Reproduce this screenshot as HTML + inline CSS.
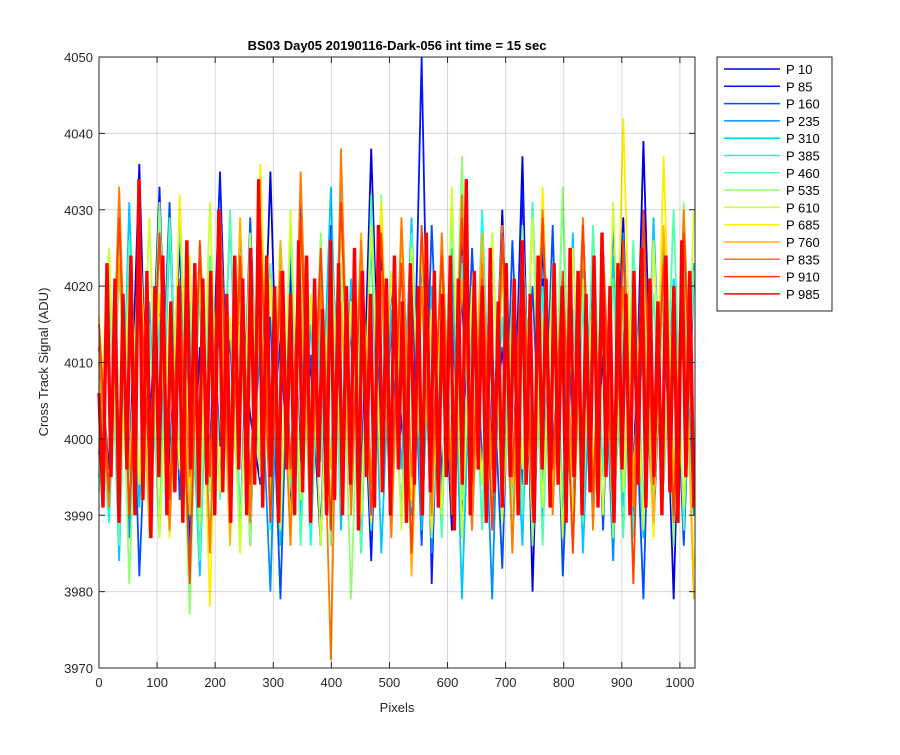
<!DOCTYPE html>
<html><head><meta charset="utf-8"><style>
body{margin:0;background:#fff;font-family:"Liberation Sans",sans-serif}
svg text{font-family:"Liberation Sans",sans-serif}
</style></head><body>
<svg id="chart" width="900" height="750">
<rect x="0" y="0" width="900" height="750" fill="#fff"/>
<rect x="99" y="57" width="596" height="611" fill="#fff" stroke="none"/>
<g id="series"></g>
<g id="grid"></g>
<rect x="99" y="57" width="596" height="611" fill="none" stroke="#262626" stroke-width="1"/>
<g id="axes"></g>
<text x="397" y="50" text-anchor="middle" font-size="13" font-weight="bold" fill="#000">BS03 Day05 20190116-Dark-056 int time = 15 sec</text>
<text x="397" y="712" text-anchor="middle" font-size="13" fill="#262626">Pixels</text>
<text transform="translate(48,362) rotate(-90)" text-anchor="middle" font-size="13" fill="#262626">Cross Track Signal (ADU)</text>
<g id="legend"></g>
</svg>
<script>
const seriesNames=["P 10","P 85","P 160","P 235","P 310","P 385","P 460","P 535","P 610","P 685","P 760","P 835","P 910","P 985"];
const colors=["#0000e0","#0018ff","#0050ff","#0090ff","#00c8ff","#10fff0","#50ffb0","#90ff70","#d0ff30","#ffee00","#ffb400","#ff7a00","#ff4000","#ff0000"];
const xTicks=[0,100,200,300,400,500,600,700,800,900,1000];
const yTicks=[3970,3980,3990,4000,4010,4020,4030,4040,4050];
const s0=[4005,3990,4024,3995,4036,3988,4018,3996,4026,3986,4012,3998,4030,3992,4016,4003,3994,4035,3990,4022,3997,4010,3986,4028,3999,4014,3993,4038,3995,4020,4002,3990,4024,3996,4017,3988,4027,3999,4012,3994,4030,3991,4037,3980,4026,3996,4015,3990,4023,3993,4011,3998,4029,3989,4039,3992,4020,3979,4028,3995];
const s1=[4012,3996,4026,3987,4020,3999,4033,3991,4015,3985,4024,3997,4035,3993,4018,3986,4027,3999,4013,3990,4031,3995,4022,3989,4030,3996,4017,3984,4025,3998,4014,3991,4050,3981,4026,3995,4019,3988,4027,3997,4012,3993,4033,3986,4021,3999,4016,3990,4028,3994,4024,3989,4014,3996,4030,3988,4021,3993,4017,3991];
const s2=[3998,4020,3990,4026,3982,4015,3996,4031,3992,4018,3984,4024,3999,4013,3987,4029,3994,4016,3979,4025,3997,4011,3988,4027,3993,4019,3985,4030,3996,4014,3990,4023,3986,4028,3995,4017,3989,4025,3997,4012,3983,4026,3994,4020,3990,4028,3982,4015,3996,4024,3988,4029,3993,4013,3979,4027,3995,4019,3986,4021];
const s3=[4010,3992,4027,3987,4019,3995,4031,3990,4014,3983,4025,3996,4016,3989,4028,3993,4012,3980,4026,3997,4015,3991,4023,3986,4029,3995,4018,3988,4022,3994,4013,3990,4027,3985,4019,3996,4024,3992,4016,3979,4026,3993,4021,3989,4028,3995,4014,3987,4023,3991,4017,3984,4027,3996,4012,3989,4025,3993,4019,3990];
const s4=[3995,4025,3984,4031,3991,4018,3987,4027,3996,4013,3982,4024,3993,4029,3989,4016,3995,4023,3986,4028,3990,4015,3997,4033,3988,4021,3993,4026,3985,4017,3996,4029,3988,4020,3992,4025,3979,4018,3994,4027,3990,4014,3986,4031,3993,4022,3989,4027,3985,4018,3996,4024,3991,4016,3987,4029,3994,4021,3990,4023];
const s5=[4007,3989,4022,3995,4027,3987,4016,3993,4029,3990,4019,3986,4025,3997,4013,3991,4031,3988,4020,3994,4024,3986,4017,3996,4033,3990,4021,3988,4028,3995,4015,3991,4026,3987,4019,3997,4023,3989,4030,3993,4016,3986,4027,3995,4020,3991,4032,3988,4018,3994,4025,3990,4014,3987,4028,3993,4021,3989,4024,3995];
const s6=[3993,4021,3986,4026,3994,4015,3989,4029,3996,4018,3984,4024,3992,4030,3988,4017,3995,4023,3990,4028,3986,4019,3997,4025,3991,4016,3985,4032,3993,4022,3989,4027,3995,4015,3987,4030,3992,4020,3988,4026,3996,4018,3990,4031,3986,4023,3993,4017,3989,4028,3995,4021,3987,4026,3991,4019,3994,4030,3988,4022];
const s7=[4004,3991,4026,3981,4019,3995,4031,3989,4016,3977,4024,3993,4028,3990,4015,3986,4029,3996,4021,3988,4017,3994,4027,3986,4023,3979,4019,3993,4032,3989,4016,3995,4025,3987,4020,3991,4037,3988,4017,3994,4022,3990,4028,3986,4016,3993,4033,3989,4021,3995,4024,3987,4018,3992,4029,3990,4020,3986,4031,3994];
const s8=[3999,4025,3990,4020,3994,4029,3987,4017,3996,4024,3989,4031,3993,4016,3985,4027,3995,4021,3988,4030,3992,4019,3986,4026,3997,4018,3990,4028,3993,4022,3988,4025,3995,4017,3990,4033,3987,4020,3994,4027,3989,4015,3996,4029,3991,4021,3987,4025,3995,4019,3990,4031,3993,4022,3988,4026,3996,4018,3991,4030];
const s9=[4016,3993,4024,3990,4028,3996,4019,3987,4032,3994,4022,3978,4027,3995,4018,3990,4036,3993,4021,3988,4026,3996,4019,3991,4029,3994,4023,3989,4031,3995,4017,3992,4027,3988,4022,3996,4030,3993,4019,3990,4028,3995,4024,3991,4033,3994,4020,3988,4027,3996,4023,3990,4042,3994,4021,3987,4037,3995,4019,3983];
const s10=[4008,3992,4023,3996,4019,3988,4027,3994,4015,3990,4025,3997,4021,3986,4029,3993,4017,3991,4026,3995,4020,3989,4024,3996,4018,3991,4027,3994,4022,3990,4028,3982,4019,3995,4025,3991,4021,3996,4027,3989,4023,3994,4018,3990,4029,3996,4022,3985,4026,3993,4020,3991,4025,3995,4017,3989,4028,3994,4021,3979];
const s11=[4012,3991,4033,3990,4022,3996,4027,3988,4019,3995,4025,3985,4030,3993,4021,3989,4028,3996,4018,3986,4035,3992,4020,3971,4038,3990,4026,3994,4022,3987,4029,3995,4020,3990,4027,3993,4032,3988,4023,3996,4028,3985,4024,3994,4030,3990,4021,3995,4029,3988,4025,3994,4020,3991,4027,3995,4022,3989,4030,3993];
const s12=[4015,3993,4029,3990,4023,3996,4027,3992,4021,3981,4026,3995,4030,3990,4024,3994,4028,3989,4022,3996,4029,3993,4025,3988,4031,3995,4022,3990,4027,3994,4023,3985,4028,3996,4024,3990,4029,3994,4021,3988,4027,3995,4025,3991,4029,3996,4022,3985,4028,3993,4024,3990,4026,3981,4030,3994,4023,3990,4027,3995];
const s13=[4006,3991,4023,3995,4021,3989,4019,3996,4024,3990,4034,3992,4022,3987,4020,3995,4024,3990,4018,3993,4020,3989,4026,3996,4023,3991,4021,3994,4022,3990,4030,3993,4019,3989,4024,3996,4021,3990,4025,3994,4034,3991,4024,3995,4020,3989,4022,3996,4019,3990,4026,3993,4024,3989,4021,3995,4017,3990,4026,3992,
4023,3990,4020,3994,4025,3988,4022,3995,4019,3991,4028,3993,4021,3990,4024,3996,4018,3989,4023,3994,4020,3990,4027,3993,4022,3991,4019,3995,4024,3988,4021,3994,4034,3990,4022,3996,4020,3989,4025,3993,4018,3991,4023,3995,4021,3990,4026,3994,4019,3989,4024,3996,4021,3991,4023,3994,4020,3989,4025,3995,4022,3990,4019,3993,4024,3991,4027,3995,4020,3989,4023,3996,4019,3990,4022,3994,4025,3991,4021,3995,4018,3990,4024,3993,4020,3989,4026,3995,4022,3991];
const seriesValues=[s0,s1,s2,s3,s4,s5,s6,s7,s8,s9,s10,s11,s12,s13];
const X0=99,X1=695,XMIN=0,XMAX=1026,Y0=668,Y1=57,YMIN=3970,YMAX=4050;
const sx=v=>X0+(v-XMIN)/(XMAX-XMIN)*(X1-X0);
const sy=v=>Y0-(v-YMIN)/(YMAX-YMIN)*(Y0-Y1);
const NS="http://www.w3.org/2000/svg";
const grid=document.getElementById('grid'),axes=document.getElementById('axes'),ser=document.getElementById('series'),leg=document.getElementById('legend');
function mk(t,a){const e=document.createElementNS(NS,t);for(const k in a)e.setAttribute(k,a[k]);return e;}
xTicks.forEach(t=>{const x=sx(t);
 const g=mk('line',{x1:x,x2:x,y1:Y1,y2:Y0,stroke:'#000','stroke-opacity':0.15,'stroke-width':1});
 
 
 grid.appendChild(g);
 const tk=mk('path',{d:`M${x},${Y0}V${Y0-6}M${x},${Y1}V${Y1+6}`,stroke:'#262626'});
 
 
 axes.appendChild(tk);
 const tx=mk('text',{x:x,y:Y0+19,'text-anchor':'middle','font-size':13,fill:'#262626'});tx.textContent=t;
 
 
 axes.appendChild(tx);});
yTicks.forEach(t=>{const y=sy(t);
 const g=mk('line',{x1:X0,x2:X1,y1:y,y2:y,stroke:'#000','stroke-opacity':0.15,'stroke-width':1});
 
 
 grid.appendChild(g);
 const tk=mk('path',{d:`M${X0},${y}H${X0+6}M${X1},${y}H${X1-6}`,stroke:'#262626'});
 
 
 axes.appendChild(tk);
 const tx=mk('text',{x:X0-6,y:y+5,'text-anchor':'end','font-size':13,fill:'#262626'});tx.textContent=t;
 
 
 axes.appendChild(tx);});
seriesValues.forEach((vals,i)=>{
 const n=vals.length;
 const pts=vals.map((v,j)=>sx(j*1024/(n-1))+','+sy(v)).join(' ');
 const p=mk('polyline',{points:pts,fill:'none',stroke:colors[i],'stroke-width':(i===13?3.4:1.8)});
 
 
 ser.appendChild(p);
});
const box=mk('rect',{x:717,y:57,width:115,height:254,fill:'#fff',stroke:'#262626'});


leg.appendChild(box);
seriesNames.forEach((n,i)=>{const y=69+i*17.3;
 const l=mk('line',{x1:724,x2:780,y1:y,y2:y,stroke:colors[i],'stroke-width':1.5});
 
 
 leg.appendChild(l);
 const t=mk('text',{x:786,y:y+5,'font-size':13,fill:'#000'});t.textContent=n;
 
 
 leg.appendChild(t);});
</script>
</body></html>
